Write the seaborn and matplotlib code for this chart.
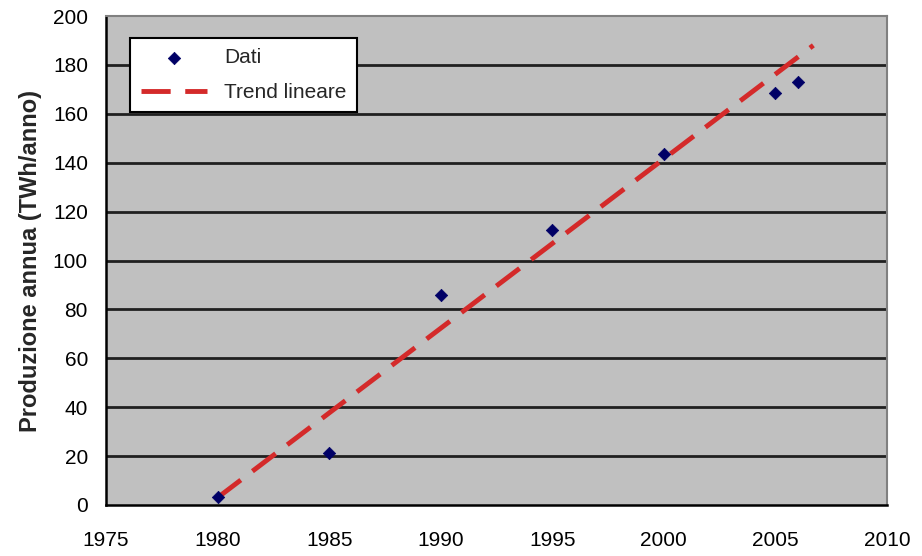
import matplotlib
matplotlib.use("Agg")
import matplotlib.pyplot as plt
import seaborn as sns
import pandas as pd

# Produzione annua (TWh/anno)
anni = [1980, 1985, 1990, 1995, 2000, 2005, 2006]
produzione = [3.3, 21.3, 85.7, 112.5, 143.5, 168.5, 173.0]

# estremi della retta di tendenza
trend_anni = [1980, 2006.7]
trend_valori = [3.0, 188.0]

x_ticks = [1975, 1980, 1985, 1990, 1995, 2000, 2005, 2010]
y_ticks = [0, 20, 40, 60, 80, 100, 120, 140, 160, 180, 200]

sns.set_style("white")
plt.rcParams["font.family"] = ["Liberation Sans", "DejaVu Sans"]

df = pd.DataFrame({"anno": anni, "produzione": produzione})
trend = pd.DataFrame({"anno": trend_anni, "valore": trend_valori})

fig = plt.figure(figsize=(9.22, 5.56), dpi=100)
ax = fig.add_axes([106 / 922, 51 / 556, 781 / 922, 489 / 556])
ax.set_facecolor("#C0C0C0")

for y in y_ticks[1:-1]:
    ax.axhline(y, color="#202020", lw=2, zorder=1)

sns.lineplot(data=trend, x="anno", y="valore", ax=ax, color="#D42A2A", lw=3.5,
             dashes=False, linestyle=(0, (6, 3)), label="Trend lineare", zorder=3)
sns.scatterplot(data=df, x="anno", y="produzione", ax=ax, marker="D", s=40,
                color="#000066", edgecolor="#000066", label="Dati", zorder=4)

ax.set_xlim(1975, 2010)
ax.set_ylim(0, 200)
ax.set_xticks(x_ticks)
ax.set_yticks(y_ticks)
ax.tick_params(axis="both", labelsize=15, direction="out", length=6, width=1.5,
               colors="black", pad=7)
ax.tick_params(axis="x", pad=13)
ax.set_xlabel("")
ax.set_ylabel("Produzione annua (TWh/anno)", fontsize=17, fontweight="bold", labelpad=8)

ax.spines["left"].set_color("black")
ax.spines["bottom"].set_color("black")
ax.spines["left"].set_linewidth(1.8)
ax.spines["bottom"].set_linewidth(1.8)
ax.spines["top"].set_color("#808080")
ax.spines["right"].set_color("#808080")
ax.spines["top"].set_linewidth(1.5)
ax.spines["right"].set_linewidth(1.5)

handles, labels = ax.get_legend_handles_labels()
order = [labels.index("Dati"), labels.index("Trend lineare")]
leg = ax.legend([handles[i] for i in order], [labels[i] for i in order],
                loc="upper left", bbox_to_anchor=(0.031, 0.955), borderaxespad=0,
                fontsize=15, frameon=True, fancybox=False, framealpha=1,
                edgecolor="black", facecolor="white", handlelength=3.2,
                labelspacing=0.75, borderpad=0.5, handletextpad=0.8)
leg.get_frame().set_linewidth(1.5)

fig.savefig("out.png", dpi=100)
